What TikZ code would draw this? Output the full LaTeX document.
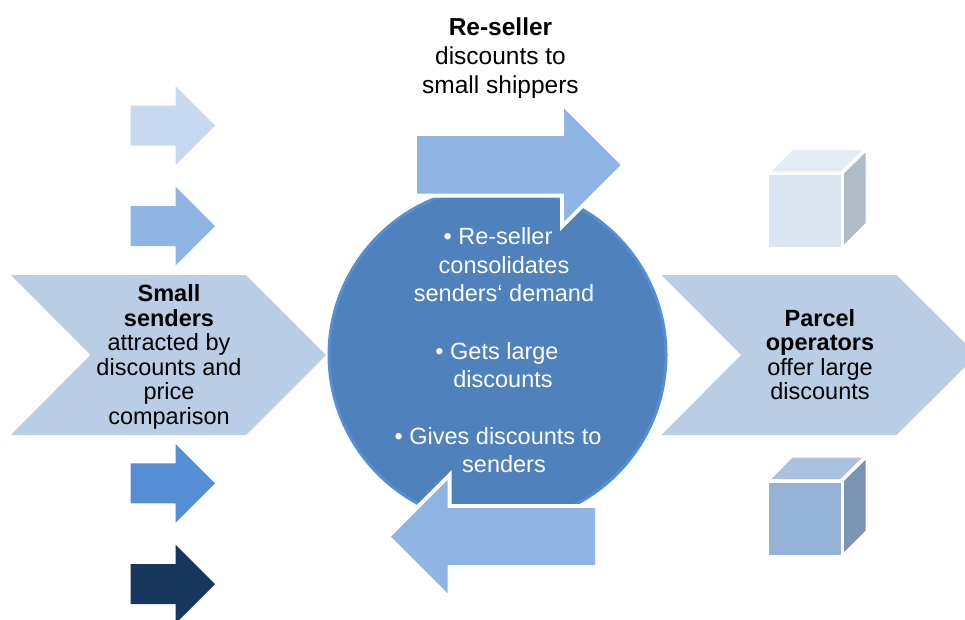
\documentclass[tikz,border=0pt]{standalone}
\usepackage{fontspec}
\setmainfont{Liberation Sans}
\definecolor{chev}{HTML}{B9CDE5}
\definecolor{circfill}{HTML}{4F81BD}
\definecolor{circline}{HTML}{558ED5}
\definecolor{arrA}{HTML}{C6D9F1}
\definecolor{arrB}{HTML}{8EB4E3}
\definecolor{arrC}{HTML}{558ED5}
\definecolor{arrD}{HTML}{17375E}
\definecolor{cubeAf}{HTML}{DCE6F2}
\definecolor{cubeAt}{HTML}{E4EBF5}
\definecolor{cubeAs}{HTML}{B1BBC7}
\definecolor{cubeBf}{HTML}{95B3D7}
\definecolor{cubeBt}{HTML}{AAC1DF}
\definecolor{cubeBs}{HTML}{7A93B2}
\tikzset{
  chevtext/.style={align=center,inner sep=0pt,text=black,font=\fontsize{23.5}{24.5}\selectfont},
  circtext/.style={align=center,inner sep=0pt,text=white,font=\fontsize{23.5}{28.5}\selectfont},
  toptext/.style={align=center,inner sep=0pt,text=black,font=\fontsize{24.5}{29}\selectfont},
  halo/.style={draw=white,line width=8pt,line join=miter}
}
\newcommand{\smallarrow}[2]{%
  \fill[#2] (130.5,#1-20) -- (175.5,#1-20) -- (175.5,#1-39.5) -- (215,#1) -- (175.5,#1+39.5) -- (175.5,#1+20) -- (130.5,#1+20) -- cycle;}
\newcommand{\cube}[4]{% y offset, front, top, side
  \fill[#2] (768.5,175+#1) rectangle (840.5,247+#1);
  \fill[#3] (771.5,171.5+#1) -- (792.5,150+#1) -- (862,150+#1) -- (840.5,171.5+#1) -- cycle;
  \fill[#4] (844,173.5+#1) -- (865.5,152.5+#1) -- (865.5,223+#1) -- (844,244.5+#1) -- cycle;}
\newcommand{\bulletline}[1]{\hspace*{-12pt}• #1}
\begin{document}
\begin{tikzpicture}[x=1pt,y=-1pt]
\useasboundingbox (0,0) rectangle (965,619);
\fill[white] (0,0) rectangle (965,619);
% small arrows
\smallarrow{125.7}{arrA}
\smallarrow{226}{arrB}
\smallarrow{483.3}{arrC}
\smallarrow{584}{arrD}
% chevrons
\fill[chev] (11,275) -- (246,275) -- (326,355) -- (246,435) -- (11,435) -- (90.5,355) -- cycle;
\fill[chev] (661.5,275) -- (896.5,275) -- (965,343) -- (965,367) -- (896.5,435) -- (661.5,435) -- (741,355) -- cycle;
% circle
\node[circle,minimum size=337pt,inner sep=0pt,fill=circfill,draw=circline,line width=3pt] (hub) at (497.5,355) {};
% big arrows
\path[halo] (417,136) -- (564,136) -- (564,108.5) -- (620.5,165) -- (564,221.5) -- (564,193.5) -- (417,193.5) -- cycle;
\fill[arrB] (417,136) -- (564,136) -- (564,108.5) -- (620.5,165) -- (564,221.5) -- (564,193.5) -- (417,193.5) -- cycle;
\path[halo] (595,508) -- (447.5,508) -- (447.5,480) -- (391,536.5) -- (447.5,593) -- (447.5,565) -- (595,565) -- cycle;
\fill[arrB] (595,508) -- (447.5,508) -- (447.5,480) -- (391,536.5) -- (447.5,593) -- (447.5,565) -- (595,565) -- cycle;
% cubes
\cube{0}{cubeAf}{cubeAt}{cubeAs}
\cube{307.5}{cubeBf}{cubeBt}{cubeBs}
% text
\node[toptext] (reseller) at (500.5,58.5) {\textbf{Re-seller}\\discounts to\\small shippers};
\node[chevtext] (senders) at (169,357) {\textbf{Small}\\\textbf{senders}\\attracted by\\discounts and\\price\\comparison};
\node[chevtext] (parcel) at (820,354.5) {\textbf{Parcel}\\\textbf{operators}\\offer large\\discounts};
\node[circtext] (c1) at (504,265) {\bulletline{Re-seller}\\consolidates\\senders‘ demand};
\node[circtext] (c2) at (503,365) {\bulletline{Gets large}\\discounts};
\node[circtext] (c3) at (504,450) {\bulletline{Gives discounts to}\\senders};
\end{tikzpicture}
\end{document}
